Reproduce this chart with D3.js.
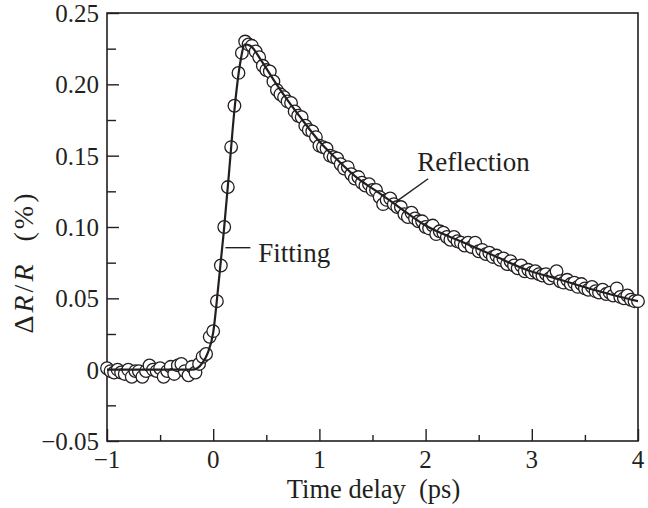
<!DOCTYPE html>
<html>
<head>
<meta charset="utf-8">
<script src="https://cdn.jsdelivr.net/npm/d3@7"></script>
<style>
  body { margin: 0; background: #fff; }
  svg { display: block; }
  text { font-family: "Liberation Serif", "Times New Roman", serif; fill: #231f20; }
</style>
</head>
<body>
<div id="chart"></div>
<script>
// measured pump-probe points, time delay (ps)
var delay = [
  -1.000, -0.967, -0.933, -0.900, -0.867, -0.833, -0.800, -0.767, -0.733, -0.700,
  -0.667, -0.633, -0.600, -0.567, -0.533, -0.500, -0.467, -0.433, -0.400, -0.367,
  -0.333, -0.300, -0.267, -0.233, -0.200, -0.167, -0.133, -0.100, -0.067, -0.033,
  0.000, 0.035, 0.072, 0.104, 0.138, 0.169, 0.200, 0.238, 0.270, 0.301,
  0.333, 0.364, 0.400, 0.433, 0.467, 0.500, 0.533, 0.567, 0.600, 0.633,
  0.667, 0.700, 0.733, 0.767, 0.800, 0.833, 0.867, 0.900, 0.933, 0.967,
  1.000, 1.033, 1.067, 1.100, 1.133, 1.167, 1.200, 1.233, 1.267, 1.300,
  1.333, 1.367, 1.400, 1.433, 1.467, 1.500, 1.533, 1.567, 1.600, 1.633,
  1.667, 1.700, 1.733, 1.767, 1.800, 1.833, 1.867, 1.900, 1.933, 1.967,
  2.000, 2.033, 2.067, 2.100, 2.133, 2.167, 2.200, 2.233, 2.267, 2.300,
  2.333, 2.367, 2.400, 2.433, 2.467, 2.500, 2.533, 2.567, 2.600, 2.633,
  2.667, 2.700, 2.733, 2.767, 2.800, 2.833, 2.867, 2.900, 2.933, 2.967,
  3.000, 3.033, 3.067, 3.100, 3.133, 3.167, 3.200, 3.233, 3.267, 3.300,
  3.333, 3.367, 3.400, 3.433, 3.467, 3.500, 3.533, 3.567, 3.600, 3.633,
  3.667, 3.700, 3.733, 3.767, 3.800, 3.833, 3.867, 3.900, 3.933, 3.967,
  4.000
];
// measured ΔR/R (%)
var reflection = [
  0.001, -0.001, -0.002, 0.000, -0.002, -0.003, 0.000, -0.005, -0.001, -0.001,
  -0.005, -0.001, 0.003, 0.000, -0.001, 0.001, -0.005, -0.001, 0.002, -0.003,
  0.003, 0.004, -0.001, -0.004, 0.002, -0.002, 0.004, 0.009, 0.011, 0.023,
  0.027, 0.048, 0.073, 0.100, 0.128, 0.156, 0.185, 0.208, 0.222, 0.230,
  0.228, 0.227, 0.223, 0.219, 0.213, 0.210, 0.209, 0.202, 0.196, 0.193,
  0.191, 0.188, 0.187, 0.181, 0.178, 0.177, 0.171, 0.168, 0.167, 0.163,
  0.157, 0.156, 0.155, 0.150, 0.149, 0.148, 0.144, 0.141, 0.142, 0.137,
  0.134, 0.135, 0.131, 0.129, 0.130, 0.126, 0.126, 0.121, 0.116, 0.119,
  0.120, 0.116, 0.114, 0.114, 0.109, 0.107, 0.110, 0.106, 0.104, 0.104,
  0.100, 0.099, 0.101, 0.095, 0.097, 0.096, 0.093, 0.091, 0.093, 0.090,
  0.089, 0.087, 0.089, 0.086, 0.089, 0.083, 0.084, 0.081, 0.082, 0.079,
  0.080, 0.077, 0.078, 0.074, 0.076, 0.073, 0.071, 0.073, 0.069, 0.070,
  0.068, 0.069, 0.067, 0.066, 0.067, 0.064, 0.066, 0.069, 0.062, 0.061,
  0.063, 0.060, 0.061, 0.058, 0.060, 0.057, 0.056, 0.058, 0.055, 0.054,
  0.056, 0.053, 0.054, 0.052, 0.057, 0.051, 0.050, 0.052, 0.049, 0.048,
  0.048
];
// fitted curve
var fitDelay = [-1, -0.5, -0.2, -0.15, -0.1, -0.05, 0, 0.05, 0.1, 0.15, 0.2, 0.25, 0.3, 0.35,
  0.45, 0.57, 0.7, 0.82, 1.0, 1.13, 1.38, 1.54, 1.73, 2.0, 2.33, 2.64, 2.95, 3.27, 3.58, 4.0];
var fitSignal = [0, 0, 0, 0.001, 0.005, 0.012, 0.026, 0.060, 0.097, 0.139, 0.182, 0.213, 0.228, 0.227,
  0.217, 0.203, 0.189, 0.177, 0.160, 0.150, 0.133, 0.125, 0.115, 0.101, 0.090, 0.080, 0.070, 0.063, 0.056, 0.048];

var xMajor = [-1, 0, 1, 2, 3, 4];
var xMinor = [-0.5, 0.5, 1.5, 2.5, 3.5];
var yMajor = [-0.05, 0, 0.05, 0.10, 0.15, 0.20, 0.25];
var yMinor = [-0.025, 0.025, 0.075, 0.125, 0.175, 0.225];
var yTickText = ['\u22120.05', '0', '0.05', '0.10', '0.15', '0.20', '0.25'];

var W = 648, H = 508;
var margin = {left: 107, right: 10, top: 13, bottom: 67};
var ink = '#231f20';

var svg = d3.select('#chart').append('svg').attr('width', W).attr('height', H);

var x = d3.scaleLinear().domain([-1, 4]).range([margin.left, W - margin.right]);
var y = d3.scaleLinear().domain([-0.05, 0.25]).range([H - margin.bottom, margin.top]);

// frame
svg.append('rect')
  .attr('x', x(-1)).attr('y', y(0.25))
  .attr('width', x(4) - x(-1)).attr('height', y(-0.05) - y(0.25))
  .attr('fill', 'none').attr('stroke', ink).attr('stroke-width', 1.6);

// x axis, ticks pointing inward
var gx = svg.append('g').attr('transform', 'translate(0,' + y(-0.05) + ')');
gx.call(d3.axisTop(x).tickValues(xMajor).tickSize(12).tickFormat(''));
gx.call(function (g) { g.select('.domain').remove(); });
gx.append('g').call(d3.axisTop(x).tickValues(xMinor).tickSize(6).tickFormat(''))
  .call(function (g) { g.select('.domain').remove(); });
gx.selectAll('line').attr('stroke', ink).attr('stroke-width', 1.4);
gx.selectAll('.xlab')
  .data(xMajor)
  .enter()
  .append('text')
  .attr('x', function (d) { return x(d); })
  .attr('y', 27)
  .attr('text-anchor', 'middle')
  .style('font-size', '25px')
  .text(function (d) { return d < 0 ? '\u2212' + Math.abs(d) : d; });

// y axis
var gy = svg.append('g').attr('transform', 'translate(' + x(-1) + ',0)');
gy.call(d3.axisRight(y).tickValues(yMajor).tickSize(12).tickFormat(''));
gy.call(function (g) { g.select('.domain').remove(); });
gy.append('g').call(d3.axisRight(y).tickValues(yMinor).tickSize(9).tickFormat(''))
  .call(function (g) { g.select('.domain').remove(); });
gy.selectAll('line').attr('stroke', ink).attr('stroke-width', 1.4);
gy.selectAll('.ylab')
  .data(yMajor)
  .enter()
  .append('text')
  .attr('x', -8)
  .attr('y', function (d) { return y(d); })
  .attr('dy', '0.36em')
  .attr('text-anchor', 'end')
  .style('font-size', '25px')
  .text(function (d, i) { return yTickText[i]; });

// axis titles
svg.append('text')
  .attr('x', (x(-1) + x(4)) / 2 + 1)
  .attr('y', 498)
  .attr('text-anchor', 'middle')
  .style('font-size', '26.5px')
  .attr('xml:space', 'preserve')
  .text('Time delay  (ps)');

var ylab = svg.append('text')
  .attr('transform', 'translate(33,' + 262 + ') rotate(-90)')
  .attr('text-anchor', 'middle')
  .style('font-size', '28px')
  .style('letter-spacing', '3px')
  .attr('xml:space', 'preserve');
ylab.append('tspan').text('\u0394');
ylab.append('tspan').style('font-style', 'italic').text('R');
ylab.append('tspan').text('/');
ylab.append('tspan').style('font-style', 'italic').text('R');
ylab.append('tspan').text('  (%)');

// data circles
var points = delay.map(function (d, i) { return {t: d, v: reflection[i]}; });
svg.append('g')
  .selectAll('circle')
  .data(points)
  .enter()
  .append('circle')
  .attr('cx', function (d) { return x(d.t); })
  .attr('cy', function (d) { return y(d.v); })
  .attr('r', 6.3)
  .attr('fill', '#fff')
  .attr('stroke', ink)
  .attr('stroke-width', 1.3);

// fitted line
var fit = fitDelay.map(function (d, i) { return {t: d, v: fitSignal[i]}; });
var line = d3.line()
  .x(function (d) { return x(d.t); })
  .y(function (d) { return y(d.v); })
  .curve(d3.curveMonotoneX);
svg.append('path')
  .datum(fit)
  .attr('d', line)
  .attr('fill', 'none')
  .attr('stroke', ink)
  .attr('stroke-width', 2.2);

// annotations
svg.append('line')
  .attr('x1', x(0.115)).attr('y1', y(0.0855))
  .attr('x2', x(0.35)).attr('y2', y(0.0855))
  .attr('stroke', ink).attr('stroke-width', 1.4);
svg.append('text')
  .attr('x', x(0.424)).attr('y', y(0.0756))
  .style('font-size', '27px')
  .text('Fitting');

svg.append('line')
  .attr('x1', x(1.733)).attr('y1', y(0.1183))
  .attr('x2', x(2.024)).attr('y2', y(0.1338))
  .attr('stroke', ink).attr('stroke-width', 1.4);
svg.append('text')
  .attr('x', x(1.921)).attr('y', y(0.139))
  .style('font-size', '27px')
  .text('Reflection');
</script>
</body>
</html>
